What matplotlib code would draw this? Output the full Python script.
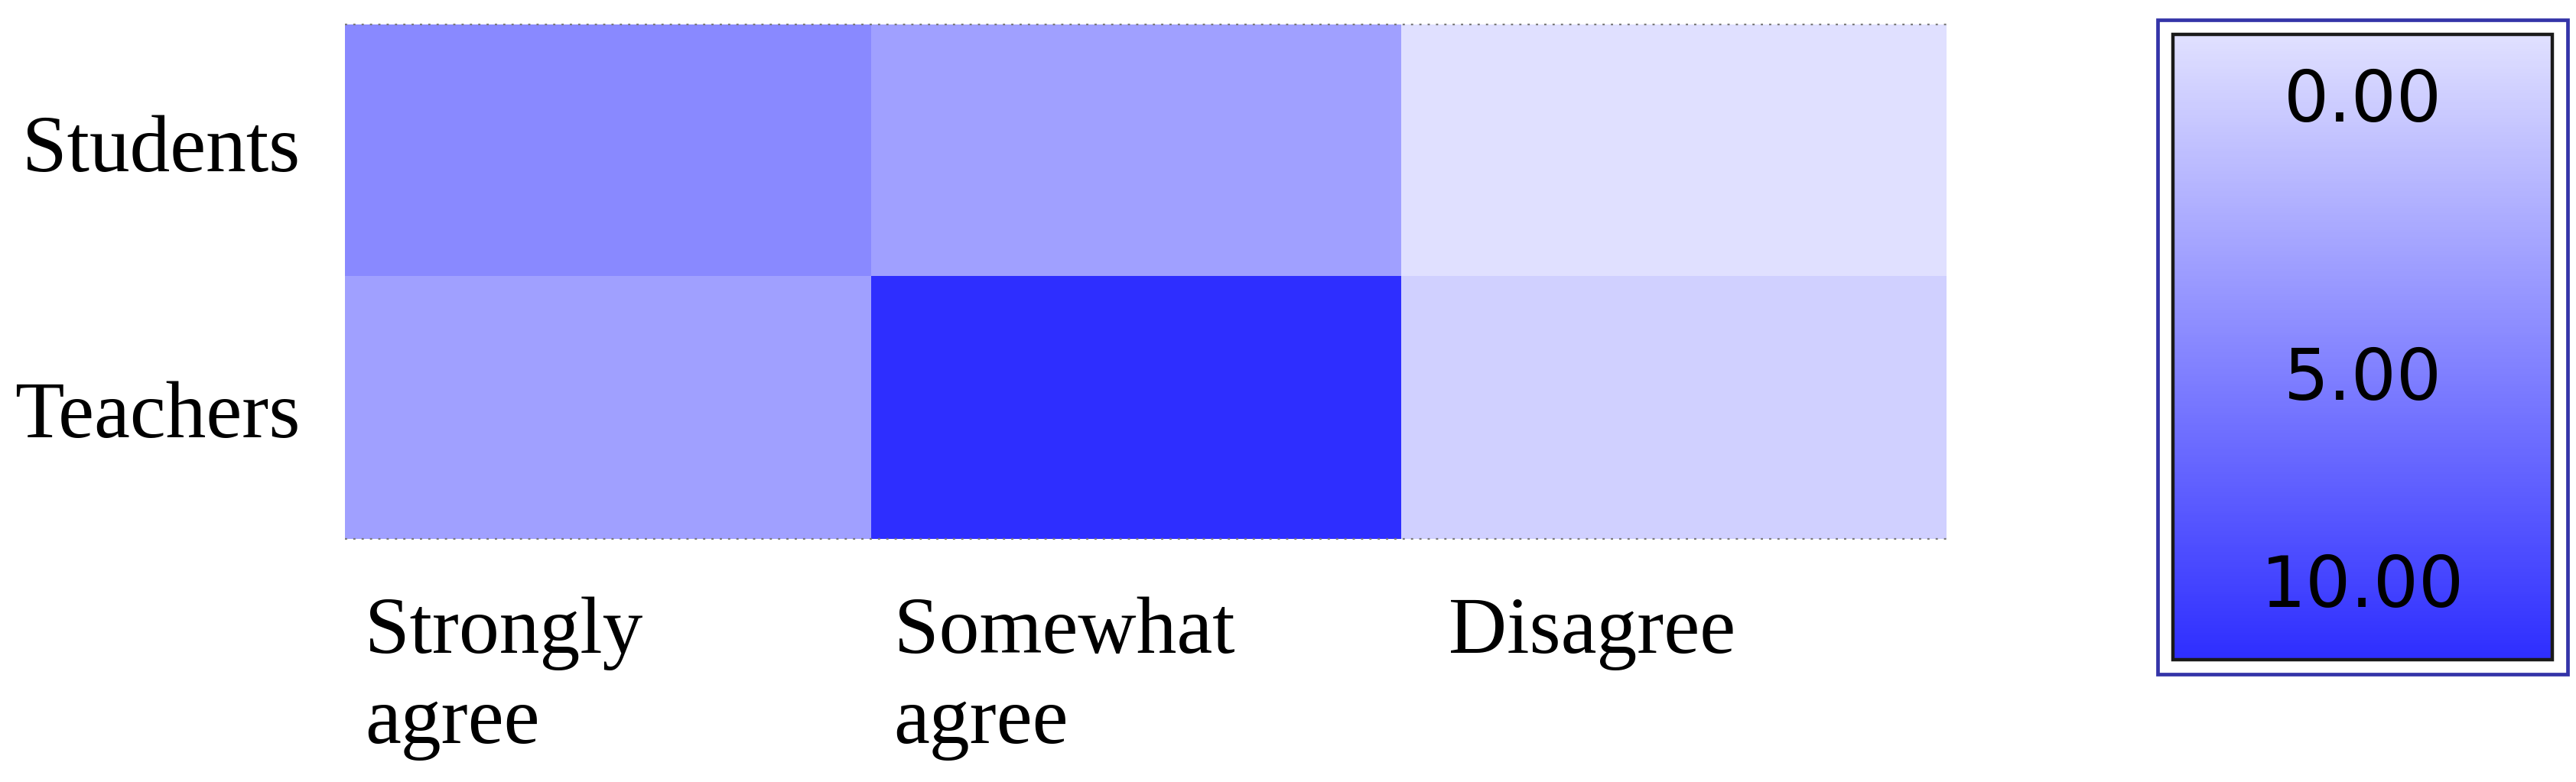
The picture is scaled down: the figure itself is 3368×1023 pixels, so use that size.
import numpy as np
import matplotlib
matplotlib.use("Agg")
import matplotlib.pyplot as plt
from matplotlib.colors import LinearSegmentedColormap, Normalize
from matplotlib.cm import ScalarMappable
from matplotlib.patches import Rectangle
import matplotlib.transforms as mtransforms

# ---------------- data ----------------
row_labels = ["Students", "Teachers"]
col_labels = ["Strongly\nagree", "Somewhat\nagree", "Disagree"]
students = [4.9, 3.6, 0.0]
teachers = [3.6, 10.0, 0.9]
cbar_values = [0, 5, 10]
cbar_texts = ["0.00", "5.00", "10.00"]

# ---------------- layout / style ----------------
W, H, DPI = 33.68, 10.23, 100
row_edges = [0, 0.978, 2]                        # cell boundaries (layout)
col_edges = [0, 0.985, 1.978, 3]                 # cell boundaries (layout)
ylabel_pos = [0.46, 1.495]                       # row label positions (layout)
xlabel_offsets = [0.037, 0.028, 0.068]          # label x position offsets (data units)
cbar_label_pos = [0.107, 0.553, 0.884]           # label centres, fraction from top of bar

cmap = LinearSegmentedColormap.from_list(
    "lightblue", [(224 / 255, 224 / 255, 1.0), (46 / 255, 46 / 255, 1.0)])
norm = Normalize(vmin=0, vmax=10)

fig = plt.figure(figsize=(W, H), dpi=DPI)
fig.patch.set_facecolor("white")

# heatmap axes
ax = fig.add_axes([451 / 3368, 1 - 705 / 1023, (2545 - 451) / 3368, (705 - 32) / 1023])
data = np.array([students, teachers])
ax.pcolormesh(np.array(col_edges), np.array(row_edges), data, cmap=cmap, norm=norm,
              shading="flat")
ax.set_xlim(0, 3)
ax.set_ylim(2, 0)
for s in ax.spines.values():
    s.set_visible(False)

# dotted top / bottom edges
for yv in (0, 2):
    ax.plot([0, 3], [yv, yv], color="#7a7a7a", lw=1.6, linestyle=(0, (1.3, 3.6)),
            clip_on=False, solid_capstyle="butt")

# y tick labels
ax.set_yticks(ylabel_pos)
ax.set_yticklabels(row_labels, family="Liberation Serif", fontsize=76)
ax.tick_params(axis="y", length=0, pad=42)
ax.set_xticks([])

# x labels (left aligned inside each column)
trans = mtransforms.blended_transform_factory(ax.transData, ax.transAxes)
for i, lab in enumerate(col_labels):
    ax.text(i + xlabel_offsets[i], -0.112, lab, transform=trans, ha="left", va="top",
            family="Liberation Serif", fontsize=76, linespacing=1.3)

# colorbar: outer box (drawn in a background axes)
bg = fig.add_axes([2821 / 3368, 1 - 882 / 1023, (3357 - 2821) / 3368, (882 - 26) / 1023],
                  zorder=0)
bg.set_xlim(0, 1)
bg.set_ylim(0, 1)
bg.axis("off")
bg.add_patch(Rectangle((0, 0), 1, 1, transform=bg.transAxes, facecolor="white",
                       edgecolor="#3434a8", lw=3.4, clip_on=False))

cax = fig.add_axes([2841 / 3368, 1 - 863 / 1023, (3337 - 2841) / 3368, (863 - 45) / 1023],
                   zorder=2)
sm = ScalarMappable(norm=norm, cmap=cmap)
cb = fig.colorbar(sm, cax=cax, orientation="vertical")
cax.invert_yaxis()
cb.set_ticks([])
cb.outline.set_edgecolor("#1a1a1a")
cb.outline.set_linewidth(3.2)
for v, t, p in zip(cbar_values, cbar_texts, cbar_label_pos):
    cax.text(0.5, 1 - p, t, transform=cax.transAxes, ha="center", va="center",
             family="DejaVu Sans", fontsize=67, color="black")

fig.savefig("out.png", dpi=DPI, facecolor="white")
